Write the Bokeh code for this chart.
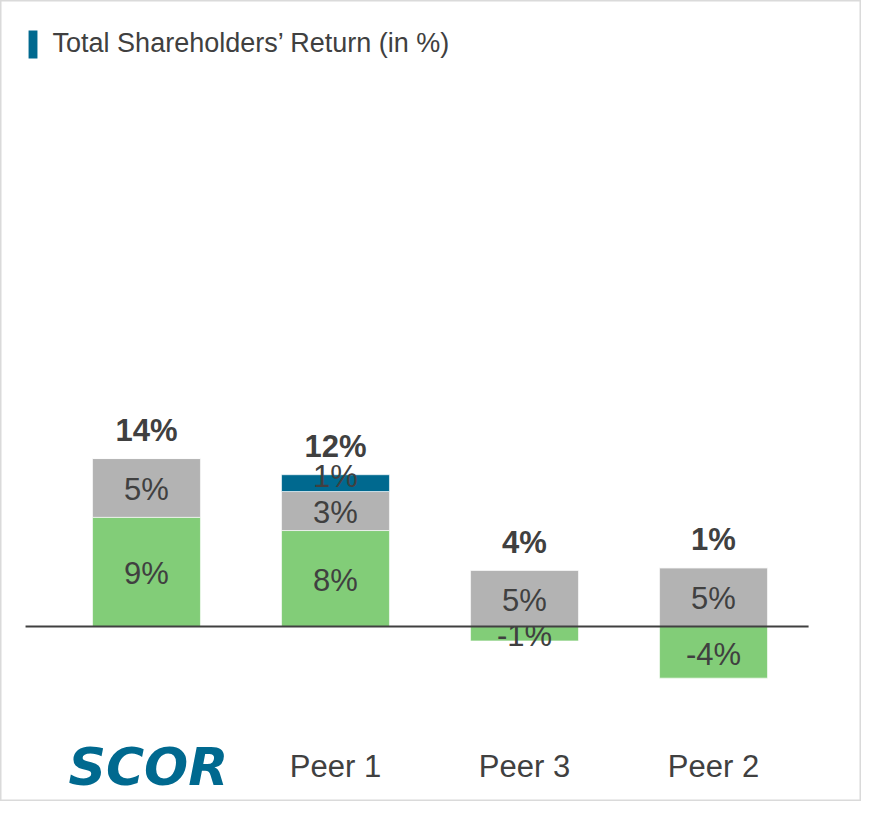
from bokeh.plotting import figure
from bokeh.models import Range1d, ColumnDataSource
from bokeh.core.properties import value
from bokeh.embed import file_html
from bokeh.resources import INLINE

# ---------------- data ----------------
categories = ["SCOR", "Peer 1", "Peer 3", "Peer 2"]
price_return = [9.1, 8.0, -1.2, -4.3]      # green
dividends = [4.9, 3.25, 4.7, 4.9]          # grey
buyback = [0.0, 1.4, 0.0, 0.0]             # blue
total_labels = ["14%", "12%", "4%", "1%"]
title_text = "Total Shareholders\u2019 Return (in %)"

series = [
    ("price", price_return, "#82CD78"),
    ("div", dividends, "#B3B3B3"),
    ("buyback", buyback, "#00698F"),
]

TEXT = "#404040"
FONT = "Liberation Sans"

W, H = 861, 801
p = figure(width=W, height=H, output_backend="svg", toolbar_location=None,
           x_range=Range1d(-0.7725, 3.783), y_range=Range1d(-14.58, 52.17),
           min_border=0, min_border_left=0, min_border_right=0,
           min_border_top=0, min_border_bottom=0)
p.axis.visible = False
p.grid.visible = False
p.background_fill_color = "white"
p.border_fill_color = "white"
p.outline_line_color = "#DADADA"
p.outline_line_width = 2

xs = list(range(len(categories)))
pos_cum = [0.0] * len(xs)
neg_cum = [0.0] * len(xs)

for name, vals, color in series:
    bottoms, tops, mids, labels, lx = [], [], [], [], []
    for i, v in enumerate(vals):
        if v >= 0:
            b, t = pos_cum[i], pos_cum[i] + v
            pos_cum[i] = t
        else:
            b, t = neg_cum[i] + v, neg_cum[i]
            neg_cum[i] = b
        bottoms.append(b)
        tops.append(t)
        if v != 0:
            mid = (b + t) / 2 - 0.15
            if name == "buyback":
                mid += 8 / 12.0
            mids.append(mid)
            labels.append(f"{round(v):.0f}%")
            lx.append(i)
    src = ColumnDataSource(dict(x=xs, bottom=bottoms, top=tops))
    p.vbar(x="x", bottom="bottom", top="top", width=0.571, source=src,
           fill_color=color, line_color="white", line_width=0.6)
    lsrc = ColumnDataSource(dict(x=lx, y=mids, t=labels))
    p.text(x="x", y="y", text="t", source=lsrc, text_align="center",
           text_baseline="middle", text_font=value(FONT), text_font_size="31px",
           text_color=TEXT)

# zero line
p.segment(x0=[-0.64], y0=[0], x1=[3.503], y1=[0], line_color=TEXT, line_width=2)

# totals
tsrc = ColumnDataSource(dict(x=xs, y=[t + 2.33 for t in pos_cum], t=total_labels))
p.text(x="x", y="y", text="t", source=tsrc, text_align="center",
       text_baseline="middle", text_font=value(FONT), text_font_size="31px",
       text_font_style="bold", text_color=TEXT)

# category labels
p.text(x=xs[1:], y=[-11.67] * (len(xs) - 1), text=categories[1:],
       text_align="center", text_baseline="middle", text_font=value(FONT),
       text_font_size="31px", text_color=TEXT)
# SCOR logo-like label
p.text(x=[0.01], y=[-11.7], text=[categories[0]], text_align="center",
       text_baseline="middle", text_font=value("DejaVu Sans"),
       text_font_size="52px", text_font_style="bold italic", text_color="#00698F")

# title with marker
p.quad(left=[-0.624], right=[-0.577], bottom=[47.33], top=[49.67],
       fill_color="#00698F", line_color=None)
p.text(x=[-0.497], y=[48.67], text=[title_text], text_align="left",
       text_baseline="middle", text_font=value(FONT), text_font_size="27px",
       text_color=TEXT)

open("out.html", "w").write(file_html(p, INLINE))
